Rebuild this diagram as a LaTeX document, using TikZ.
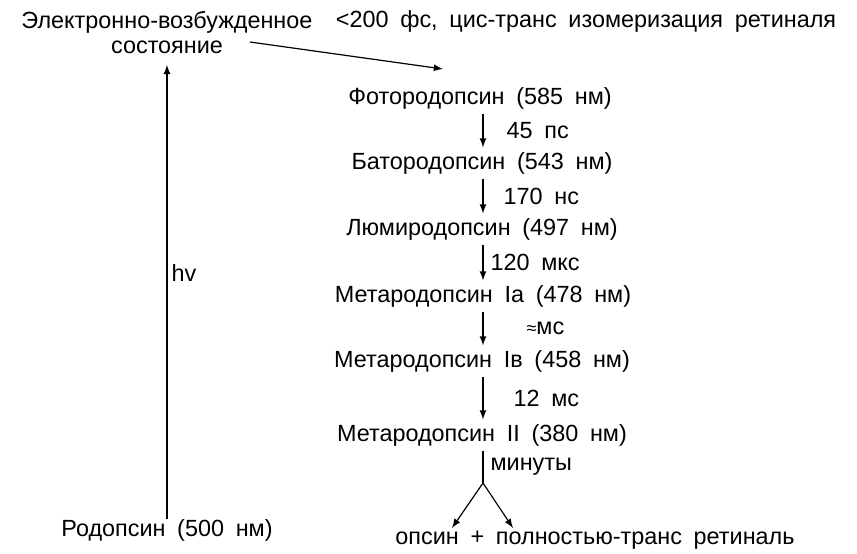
\documentclass[tikz,border=0pt]{standalone}
\usepackage{fontspec}
\setmainfont[WordSpace=1.8]{Liberation Sans}
\usepackage{tikz}

\begin{document}
\begin{tikzpicture}[x=0.5pt,y=-0.5pt,>=latex,line width=0.6pt,
  font=\fontsize{11.7}{12.5}\selectfont, inner sep=2pt]
  \useasboundingbox (0,0) rectangle (857,553);
  \node[align=center] (exc) at (167,33) {Электронно-возбужденное\\состояние};
  \node (iso) at (586,21) {<200 фс, цис-транс изомеризация ретиналя};
  \node (rhod) at (167,530) {Родопсин (500 нм)};
  \node (foto) at (480,98) {Фотородопсин (585 нм)};
  \node (bato) at (482,163) {Батородопсин (543 нм)};
  \node (lumi) at (482,229) {Люмиродопсин (497 нм)};
  \node (metaA) at (483,296) {Метародопсин Ia (478 нм)};
  \node (metaB) at (482,361) {Метародопсин Iв (458 нм)};
  \node (metaC) at (482,435) {Метародопсин II (380 нм)};
  \node (prod) at (595,540) {опсин + полностью-транс ретиналь};
  \coordinate (from) at (250,42);
  \coordinate (to) at (443,69);
  \coordinate (split) at (483,483);
  \coordinate (left) at (452,528);
  \coordinate (right) at (513,528);
  \draw[->, shorten >=3pt, shorten <=-2pt] (rhod) -- node[right, pos=0.53] {hv} (exc);
  \draw[->] (from) -- (to);
  \draw[->] (foto.south -| 483,0) -- node[right, xshift=9.5pt] {45 пс} (bato.north -| 483,0);
  \draw[->] (bato.south -| 483,0) -- node[right, xshift=8pt] {170 нс} (lumi.north -| 483,0);
  \draw[->] (lumi.south -| 483,0) -- node[right, xshift=1.5pt] {120 мкс} (metaA.north -| 483,0);
  \draw[->] (metaA.south -| 483,0) -- node[right, xshift=19.5pt] {{\small ≈}мс} (metaB.north -| 483,0);
  \draw[->] (metaB.south -| 483,0) -- node[right, xshift=13pt] {12 мс} (metaC.north -| 483,0);
  \draw (metaC.south -| split) -- node[right, xshift=1.5pt] {минуты} (split);
  \draw[->] (split) -- (left);
  \draw[->] (split) -- (right);
\end{tikzpicture}
\end{document}
